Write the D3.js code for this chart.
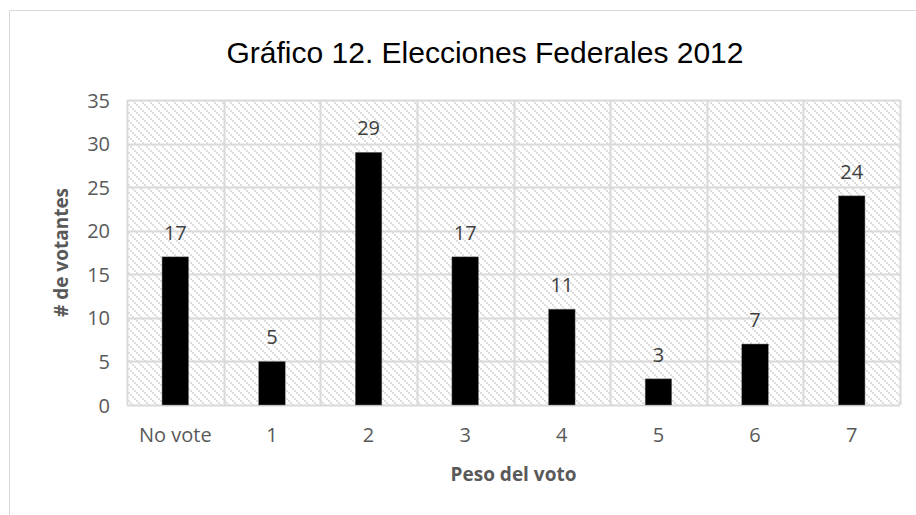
<!DOCTYPE html>
<html>
<head>
<meta charset="utf-8">
<script src="https://cdn.jsdelivr.net/npm/d3@7"></script>
<style>
  html, body { margin: 0; padding: 0; background: #fff; }
  svg { display: block; }
</style>
</head>
<body>
<svg id="chart" width="916" height="515"></svg>
<script>
// Votes by vote weight, 2012 federal elections
const categories = ["No vote", "1", "2", "3", "4", "5", "6", "7"];
const votantes = [17, 5, 29, 17, 11, 3, 7, 24];
const yTicks = [0, 5, 10, 15, 20, 25, 30, 35];

const titleText = "Gráfico 12. Elecciones Federales 2012";
const xTitle = "Peso del voto";
const yTitle = "# de votantes";

const svg = d3.select("#chart");
const W = 916, H = 515;
const plot = { left: 127, right: 900, top: 100, bottom: 405 };

const bodyFont = "'Open Sans', 'Liberation Sans', sans-serif";

// outer chart frame (extends past the page on the right and bottom)
svg.append("path")
  .attr("d", `M9.5,${H + 5} V10.5 H${W + 5}`)
  .attr("fill", "none")
  .attr("stroke", "#d9d9d9")
  .attr("stroke-width", 1);

// diagonal hatch fill for the plot area
const defs = svg.append("defs");
const pat = defs.append("pattern")
  .attr("id", "hatch")
  .attr("patternUnits", "userSpaceOnUse")
  .attr("width", 8).attr("height", 8);
pat.append("rect").attr("width", 8).attr("height", 8).attr("fill", "#fff");
[0, 2, 4, 6].forEach(i => {
  pat.append("rect").attr("x", i).attr("y", i).attr("width", 2).attr("height", 2).attr("fill", "#dedede");
});

const x = d3.scaleBand()
  .domain(categories)
  .range([plot.left, plot.right])
  .paddingInner(0)
  .paddingOuter(0);

const y = d3.scaleLinear()
  .domain([0, 35])
  .range([plot.bottom, plot.top]);

svg.append("rect")
  .attr("x", plot.left).attr("y", plot.top)
  .attr("width", plot.right - plot.left)
  .attr("height", plot.bottom - plot.top)
  .attr("fill", "url(#hatch)");

// horizontal gridlines
svg.append("g").selectAll("line")
  .data(yTicks)
  .join("line")
  .attr("x1", plot.left).attr("x2", plot.right)
  .attr("y1", d => Math.round(y(d)) + 0.5)
  .attr("y2", d => Math.round(y(d)) + 0.5)
  .attr("stroke", "#d9d9d9")
  .attr("stroke-width", 2);

// vertical gridlines at category boundaries
const bounds = categories.map(c => x(c)).concat([plot.right]);
svg.append("g").selectAll("line")
  .data(bounds)
  .join("line")
  .attr("x1", d => Math.round(d) + 0.5).attr("x2", d => Math.round(d) + 0.5)
  .attr("y1", plot.top).attr("y2", plot.bottom)
  .attr("stroke", "#d9d9d9")
  .attr("stroke-width", 2);

// bars
const barW = x.bandwidth() * 0.275;
svg.append("g").selectAll("rect")
  .data(categories)
  .join("rect")
  .attr("x", (c) => x(c) + x.bandwidth() / 2 - barW / 2)
  .attr("y", (c, i) => y(votantes[i]))
  .attr("width", barW)
  .attr("height", (c, i) => y(0) - y(votantes[i]))
  .attr("fill", "#000")
  .attr("stroke", "#7f7f7f")
  .attr("stroke-width", 0.5);

// value labels
svg.append("g").selectAll("text")
  .data(categories)
  .join("text")
  .attr("x", c => x(c) + x.bandwidth() / 2)
  .attr("y", (c, i) => y(votantes[i]) - 17)
  .attr("text-anchor", "middle")
  .attr("font-family", bodyFont)
  .attr("font-size", 20)
  .attr("fill", "#404040")
  .text((c, i) => votantes[i]);

// y axis tick labels
const yAxis = d3.axisLeft(y).tickValues(yTicks).tickSize(0).tickPadding(0);
const gy = svg.append("g")
  .attr("transform", `translate(${plot.left - 17},0)`)
  .call(yAxis);
gy.select(".domain").remove();
gy.selectAll("text")
  .attr("font-family", bodyFont)
  .attr("font-size", 20)
  .attr("fill", "#595959")
  .attr("dy", "0.35em");

// x axis category labels
const xAxis = d3.axisBottom(x).tickSize(0).tickPadding(0);
const gx = svg.append("g")
  .attr("transform", `translate(0,${plot.bottom + 23})`)
  .call(xAxis);
gx.select(".domain").remove();
gx.selectAll("text")
  .attr("font-family", bodyFont)
  .attr("font-size", 20)
  .attr("fill", "#595959")
  .attr("dy", "0.71em");

// axis titles
svg.append("text")
  .attr("x", (plot.left + plot.right) / 2)
  .attr("y", 481)
  .attr("text-anchor", "middle")
  .attr("font-family", bodyFont)
  .attr("font-weight", "bold")
  .attr("font-size", 19)
  .attr("fill", "#595959")
  .text(xTitle);

svg.append("text")
  .attr("transform", `translate(68,${(plot.top + plot.bottom) / 2}) rotate(-90)`)
  .attr("text-anchor", "middle")
  .attr("font-family", bodyFont)
  .attr("font-weight", "bold")
  .attr("font-size", 19)
  .attr("fill", "#595959")
  .text(yTitle);

// chart title
svg.append("text")
  .attr("x", 485)
  .attr("y", 63)
  .attr("text-anchor", "middle")
  .attr("font-family", "'Liberation Sans', Arial, sans-serif")
  .attr("font-size", 30)
  .attr("fill", "#000")
  .text(titleText);
</script>
</body>
</html>
